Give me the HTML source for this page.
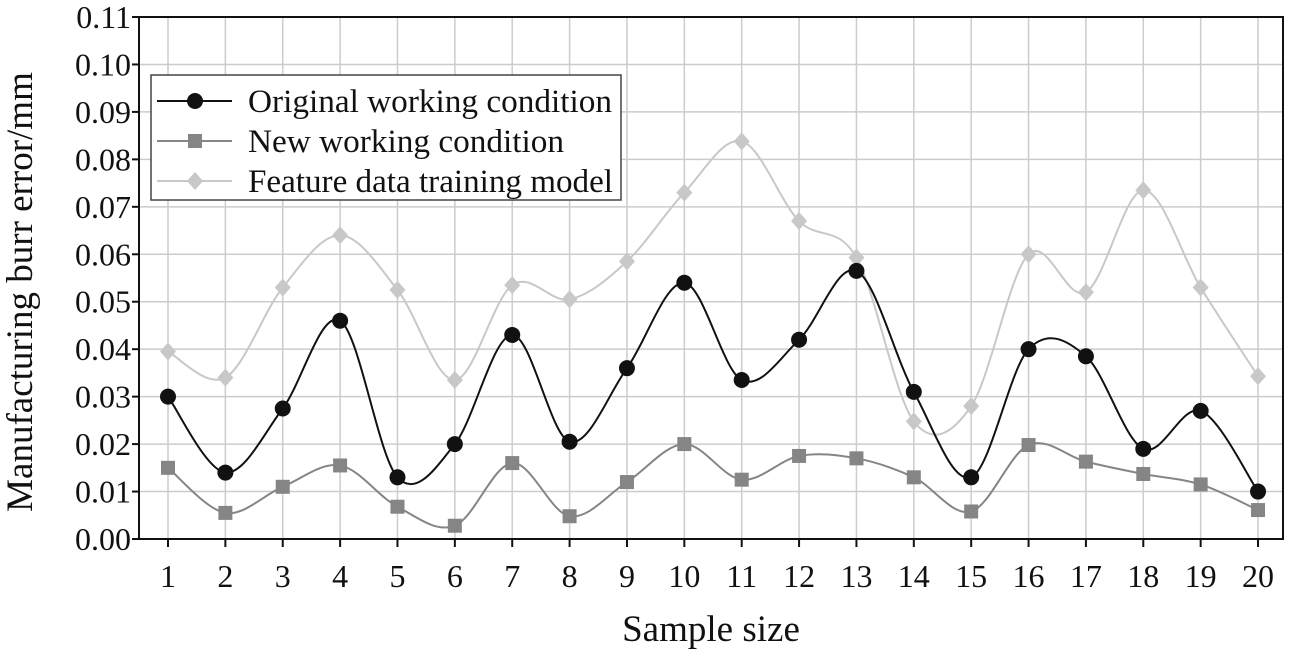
<!DOCTYPE html>
<html><head><meta charset="utf-8"><style>
body{margin:0;background:#fff}
svg text{font-family:"Liberation Serif",serif;fill:#111}
</style></head><body>
<svg id="chart" width="1290" height="653" xmlns="http://www.w3.org/2000/svg"></svg>
<script>
const categories=[1,2,3,4,5,6,7,8,9,10,11,12,13,14,15,16,17,18,19,20];
const original=[0.030,0.014,0.0275,0.046,0.013,0.020,0.043,0.0205,0.036,0.054,0.0335,0.042,0.0565,0.031,0.013,0.040,0.0385,0.019,0.027,0.010];
const newCond=[0.015,0.0055,0.011,0.0155,0.0068,0.0028,0.016,0.0048,0.012,0.020,0.0125,0.0175,0.017,0.013,0.0058,0.0198,0.0163,0.0137,0.0115,0.0061];
const feature=[0.0395,0.034,0.053,0.064,0.0525,0.0335,0.0535,0.0505,0.0585,0.073,0.0838,0.067,0.0593,0.0248,0.028,0.060,0.052,0.0735,0.053,0.0343];
const yTicks=[0,0.01,0.02,0.03,0.04,0.05,0.06,0.07,0.08,0.09,0.10,0.11];
const L=139,R=1283,T=17,B=539;
const x=v=>168+(v-1)*57.37;
const y=v=>B-(v/0.11)*(B-T);
const svg=document.getElementById('chart');const NS='http://www.w3.org/2000/svg';
function mk(t,a,p){const e=document.createElementNS(NS,t);for(const k in a)e.setAttribute(k,a[k]);(p||svg).appendChild(e);return e;}
yTicks.forEach(t=>{if(t>0){const g=mk('line',{x1:L,x2:R,y1:y(t),y2:y(t),stroke:'#ccc','stroke-width':1.5});

}
const tk=mk('line',{x1:L-7,x2:L,y1:y(t),y2:y(t),stroke:'#111','stroke-width':2});


const tx=mk('text',{x:L-8,y:y(t)+11,'text-anchor':'end','font-size':32});tx.textContent=t.toFixed(2);

});
categories.forEach(c=>{const g=mk('line',{x1:x(c),x2:x(c),y1:T,y2:B,stroke:'#ccc','stroke-width':1.5});


const tk=mk('line',{x1:x(c),x2:x(c),y1:B,y2:B+8,stroke:'#111','stroke-width':2});


const tx=mk('text',{x:x(c),y:B+48,'text-anchor':'middle','font-size':32});tx.textContent=c;

});
const fr=mk('rect',{x:L,y:T,width:R-L,height:B-T,fill:'none',stroke:'#111','stroke-width':2});


function path(vals){const p=vals.map((v,i)=>[x(categories[i]),y(v)]);let d='M'+p[0];
for(let i=0;i<p.length-1;i++){const p0=p[i-1]||p[i],p1=p[i],p2=p[i+1],p3=p[i+2]||p2;
const c1=[p1[0]+(p2[0]-p0[0])/6,p1[1]+(p2[1]-p0[1])/6],c2=[p2[0]-(p3[0]-p1[0])/6,p2[1]-(p3[1]-p1[1])/6];
d+=' C'+c1+' '+c2+' '+p2;}return d;}
function marker(shape,cx,cy,col,g){if(shape==='c')return mk('circle',{cx,cy,r:8,fill:col},g);
if(shape==='s')return mk('rect',{x:cx-7,y:cy-7,width:14,height:14,fill:col},g);
return mk('polygon',{points:`${cx},${cy-9} ${cx+8},${cy} ${cx},${cy+9} ${cx-8},${cy}`,fill:col},g);}
const series=[[feature,'#c8c8c8','d','feature-series'],[newCond,'#858585','s','new-series'],[original,'#111','c','original-series']];
series.forEach(([vals,col,sh,name])=>{const g=mk('g',{});


mk('path',{d:path(vals),fill:'none',stroke:col,'stroke-width':2},g);
vals.forEach((v,i)=>{const m=marker(sh,x(categories[i]),y(v),col,g);

});});
const lg=mk('g',{});


mk('rect',{x:151,y:75,width:470,height:125,fill:'#fff',stroke:'#444','stroke-width':1.5},lg);
[['Original working condition','#111','c'],['New working condition','#858585','s'],['Feature data training model','#c8c8c8','d']].forEach(([t,col,sh],i)=>{
const yy=101+i*40;mk('line',{x1:157,x2:232,y1:yy,y2:yy,stroke:col,'stroke-width':2},lg);marker(sh,195,yy,col,lg);
const tx=mk('text',{x:248,y:yy+11,'font-size':33,textLength:364,lengthAdjust:'spacingAndGlyphs'},lg);tx.textContent=t;
if(i===1)tx.setAttribute('textLength',316);
if(i===2)tx.setAttribute('textLength',365);

});
const xt=mk('text',{x:711,y:641,'text-anchor':'middle','font-size':37});xt.textContent='Sample size';


const yt=mk('text',{x:0,y:0,'text-anchor':'middle','font-size':37,transform:'translate(32,292) rotate(-90)'});yt.textContent='Manufacturing burr error/mm';


</script>
</body></html>
